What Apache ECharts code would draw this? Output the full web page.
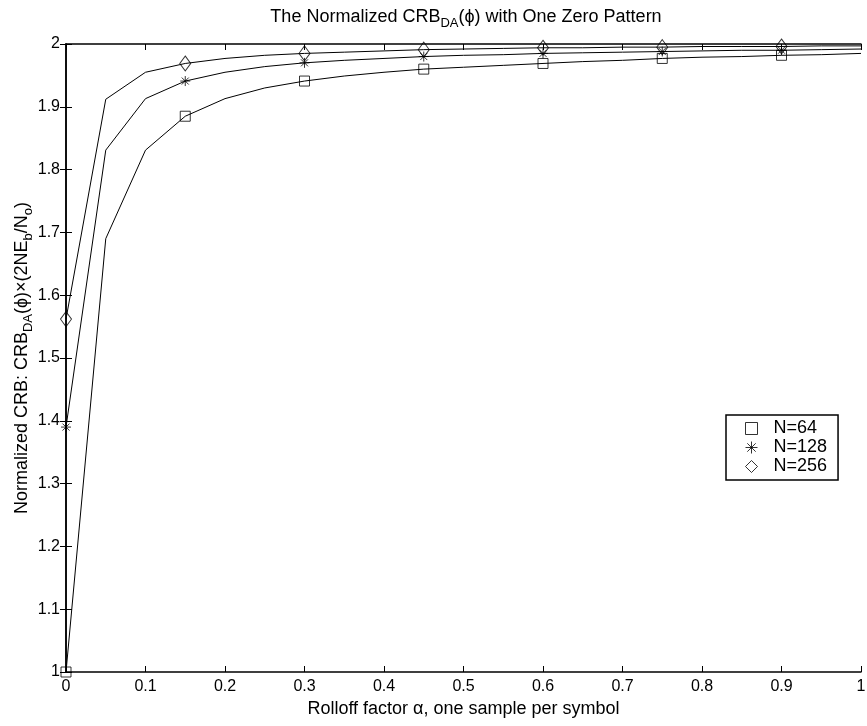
<!DOCTYPE html>
<html>
<head>
<meta charset="utf-8">
<script src="https://cdn.jsdelivr.net/npm/echarts@6/dist/echarts.min.js"></script>
<style>html,body{margin:0;padding:0;background:#fff}#c{width:867px;height:726px}</style>
</head>
<body>
<div id="c"></div>
<script>
// Rolloff factor values (x)
const alpha = [0,0.05,0.1,0.15,0.2,0.25,0.3,0.35,0.4,0.45,0.5,0.55,0.6,0.65,0.7,0.75,0.8,0.85,0.9,0.95,1];
// Normalized CRB values for each N
const n64  = [1.000,1.690,1.831,1.885,1.913,1.930,1.941,1.949,1.955,1.960,1.963,1.966,1.969,1.972,1.974,1.977,1.979,1.980,1.982,1.983,1.985];
const n128 = [1.390,1.831,1.913,1.941,1.955,1.964,1.970,1.974,1.977,1.980,1.982,1.983,1.985,1.986,1.987,1.988,1.989,1.990,1.990,1.991,1.992];
const n256 = [1.562,1.912,1.955,1.969,1.977,1.982,1.985,1.987,1.989,1.991,1.992,1.993,1.994,1.994,1.995,1.995,1.996,1.996,1.996,1.997,1.997];
// x positions where markers are drawn
const markerAlpha = [0,0.15,0.3,0.45,0.6,0.75,0.9];
const seriesNames = ['N=64','N=128','N=256'];

const FONT = '"Liberation Sans", Arial, sans-serif';
const FS_TICK = 16;
const FS_NAME = 18;

function pairs(vals){ return alpha.map((a,i)=>[a, vals[i]]); }
function marks(vals){ return pairs(vals).filter(p => markerAlpha.indexOf(p[0]) >= 0); }

const starPath = 'path://M0,5L10,5M5,0L5,10M1.5,1.5L8.5,8.5M1.5,8.5L8.5,1.5';

const lineStyle = {color:'#000', width:1};
const allVals = [n64, n128, n256];
const symbols = ['rect', starPath, 'diamond'];
const symSizes = [10, 10, [11,15]];

const series = [];
allVals.forEach((v,k)=>{
  series.push({
    type:'line', data: pairs(v), symbol:'none', silent:true,
    lineStyle: lineStyle, z:2, animation:false
  });
});
allVals.forEach((v,k)=>{
  series.push({
    type:'scatter', name: seriesNames[k], data: marks(v),
    symbol: symbols[k], symbolSize: symSizes[k], z:3, animation:false,
    itemStyle:{color:'rgba(0,0,0,0)', borderColor:'#000', borderWidth:1}
  });
});

const axisLineStyle = {lineStyle:{color:'#000', width:1.5}};
const tickInside = {inside:true, length:6, lineStyle:{color:'#000', width:1}};
const labelStyle = {color:'#000', fontFamily:FONT, fontSize:FS_TICK};
const richName = {
  n:{fontFamily:FONT, fontSize:FS_NAME, color:'#000'},
  s:{fontFamily:FONT, fontSize:13, color:'#000', padding:[12,0,0,0]}
};

const chart = echarts.init(document.getElementById('c'), null, {renderer:'canvas'});
chart.setOption({
  backgroundColor:'#fff',
  animation:false,
  title:{
    text:'{n|The Normalized CRB}{s|DA}{n|(ϕ) with One Zero Pattern}',
    left:461, top:0, textAlign:'center',
    textStyle:{ fontWeight:'normal', rich: richName }
  },
  grid:{left:66, right:6, top:44, bottom:54, containLabel:false, outerBoundsMode:'none'},
  legend:{
    data: seriesNames,
    orient:'vertical', left:726, top:415,
    itemWidth:12, itemHeight:12, itemGap:0,
    padding:[4,11,4,19],
    borderColor:'#000', borderWidth:1.5, backgroundColor:'#fff',
    itemStyle:{borderWidth:1},
    textStyle:{fontFamily:FONT, fontSize:FS_NAME, color:'#000', lineHeight:19, padding:[0,0,0,11]}
  },
  xAxis:[{
    type:'value', min:0, max:1, interval:0.1,
    axisLine:axisLineStyle, axisTick:tickInside,
    axisLabel:Object.assign({margin:7}, labelStyle),
    splitLine:{show:false},
    name:'Rolloff factor α, one sample per symbol',
    nameLocation:'middle', nameGap:28, nameMoveOverlap:false,
    nameTextStyle:{fontFamily:FONT, fontSize:FS_NAME, color:'#000'}
  },{
    type:'value', min:0, max:1, interval:0.1, position:'top',
    axisLine:axisLineStyle, axisTick:tickInside,
    axisLabel:{show:false}, splitLine:{show:false}
  }],
  yAxis:[{
    type:'value', min:1, max:2, interval:0.1,
    axisLine:axisLineStyle, axisTick:tickInside,
    axisLabel:Object.assign({margin:6}, labelStyle),
    splitLine:{show:false},
    name:'{n|Normalized CRB: CRB}{s|DA}{n|(ϕ)×(2NE}{s|b}{n|/N}{s|o}{n|)}',
    nameLocation:'middle', nameGap:31, nameRotate:90, nameMoveOverlap:false,
    nameTextStyle:{ rich: richName }
  },{
    type:'value', min:1, max:2, interval:0.1, position:'right',
    axisLine:axisLineStyle, axisTick:tickInside,
    axisLabel:{show:false}, splitLine:{show:false}
  }],
  series: series
});
</script>
</body>
</html>
